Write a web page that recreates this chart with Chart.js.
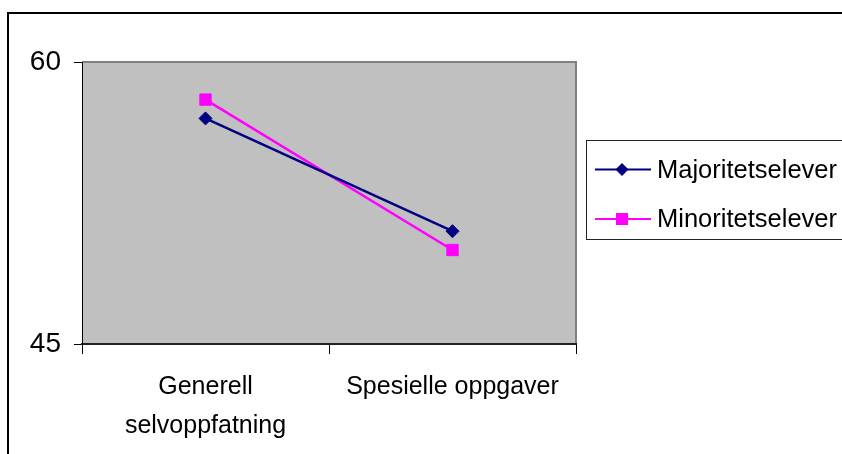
<!DOCTYPE html>
<html>
<head>
<meta charset="utf-8">
<script src="https://cdn.jsdelivr.net/npm/chart.js@4/dist/chart.umd.min.js"></script>
<style>
  html, body { margin: 0; padding: 0; background: #fff; }
  canvas { display: block; }
</style>
</head>
<body>
<canvas id="c" width="842" height="454"></canvas>
<script>
// Categories and series
const categories = [['Generell', 'selvoppfatning'], 'Spesielle oppgaver'];
const seriesNames = ['Majoritetselever', 'Minoritetselever'];
const majoritetselever = [57, 51];
const minoritetselever = [58, 50];
const yMin = 45;
const yMax = 60;
const yStep = 15;

const FONT = '"Liberation Sans", Arial, sans-serif';

// Grey plot background with its frame
const plotBackground = {
  id: 'plotBackground',
  beforeDraw(chart) {
    const { ctx, chartArea: a } = chart;
    ctx.save();
    ctx.fillStyle = '#c0c0c0';
    ctx.fillRect(a.left, a.top, a.right - a.left, a.bottom - a.top);
    ctx.strokeStyle = '#808080';
    ctx.lineWidth = 2;
    ctx.beginPath();
    ctx.moveTo(a.left, a.top);
    ctx.lineTo(a.right, a.top);
    ctx.lineTo(a.right, a.bottom);
    ctx.stroke();
    ctx.restore();
  }
};

// Outer chart frame and boxed legend on the right
const frameAndLegend = {
  id: 'frameAndLegend',
  afterDraw(chart) {
    const { ctx } = chart;
    ctx.save();
    ctx.strokeStyle = '#000';
    ctx.lineWidth = 2;
    ctx.strokeRect(8, 13, 900, 900);

    ctx.lineWidth = 1;
    ctx.strokeStyle = '#222';
    ctx.strokeRect(586.5, 140.5, 300, 99);

    const rows = [169.5, 219];
    chart.data.datasets.forEach((ds, i) => {
      const y = rows[i];
      ctx.strokeStyle = ds.borderColor;
      ctx.lineWidth = 2;
      ctx.beginPath();
      ctx.moveTo(595, y);
      ctx.lineTo(651, y);
      ctx.stroke();
      ctx.fillStyle = ds.backgroundColor;
      ctx.beginPath();
      const cx = 622;
      if (ds.pointStyle === 'rectRot') {
        ctx.moveTo(cx - 6.5, y);
        ctx.lineTo(cx, y - 6.5);
        ctx.lineTo(cx + 6.5, y);
        ctx.lineTo(cx, y + 6.5);
        ctx.closePath();
      } else {
        ctx.rect(cx - 6, y - 6, 12, 12);
      }
      ctx.fill();
      ctx.fillStyle = '#000';
      ctx.font = '25.5px ' + FONT;
      ctx.textAlign = 'left';
      ctx.textBaseline = 'middle';
      ctx.fillText(ds.label, 657, y + 1);
    });
    ctx.restore();
  }
};

new Chart(document.getElementById('c'), {
  type: 'line',
  data: {
    labels: categories,
    datasets: [
      {
        label: seriesNames[0],
        data: majoritetselever,
        borderColor: '#000080',
        backgroundColor: '#000080',
        borderWidth: 2.5,
        pointStyle: 'rectRot',
        pointRadius: 6.5,
        pointBorderWidth: 1,
        pointBackgroundColor: '#000080',
        pointBorderColor: '#000080',
        tension: 0
      },
      {
        label: seriesNames[1],
        data: minoritetselever,
        borderColor: '#ff00ff',
        backgroundColor: '#ff00ff',
        borderWidth: 2.5,
        pointStyle: 'rect',
        pointRadius: 8,
        pointBorderWidth: 1,
        pointBackgroundColor: '#ff00ff',
        pointBorderColor: '#ff00ff',
        tension: 0
      }
    ]
  },
  options: {
    responsive: false,
    devicePixelRatio: 1,
    animation: false,
    layout: { padding: { top: 62, right: 266, bottom: 0, left: 0 } },
    plugins: {
      legend: { display: false },
      tooltip: { enabled: false }
    },
    scales: {
      x: {
        type: 'category',
        offset: true,
        afterFit(s) { s.height = 110; },
        grid: {
          offset: true,
          drawOnChartArea: false,
          drawTicks: true,
          tickLength: 10,
          tickColor: '#000',
          tickWidth: 1
        },
        border: { display: true, color: '#222', width: 2 },
        ticks: {
          color: '#000',
          padding: 14,
          maxRotation: 0,
          autoSkip: false,
          font: { family: FONT, size: 25, lineHeight: 1.56 }
        }
      },
      y: {
        min: yMin,
        max: yMax,
        afterFit(s) { s.width = 82; },
        afterBuildTicks(s) { s.ticks = [{ value: yMin }, { value: yMax }]; },
        grid: {
          drawOnChartArea: false,
          drawTicks: true,
          tickLength: 8,
          tickColor: '#000',
          tickWidth: 1
        },
        border: { display: true, color: '#000', width: 1 },
        ticks: {
          stepSize: yStep,
          color: '#000',
          padding: 13,
          font: { family: FONT, size: 28 }
        }
      }
    }
  },
  plugins: [plotBackground, frameAndLegend]
});
</script>
</body>
</html>
